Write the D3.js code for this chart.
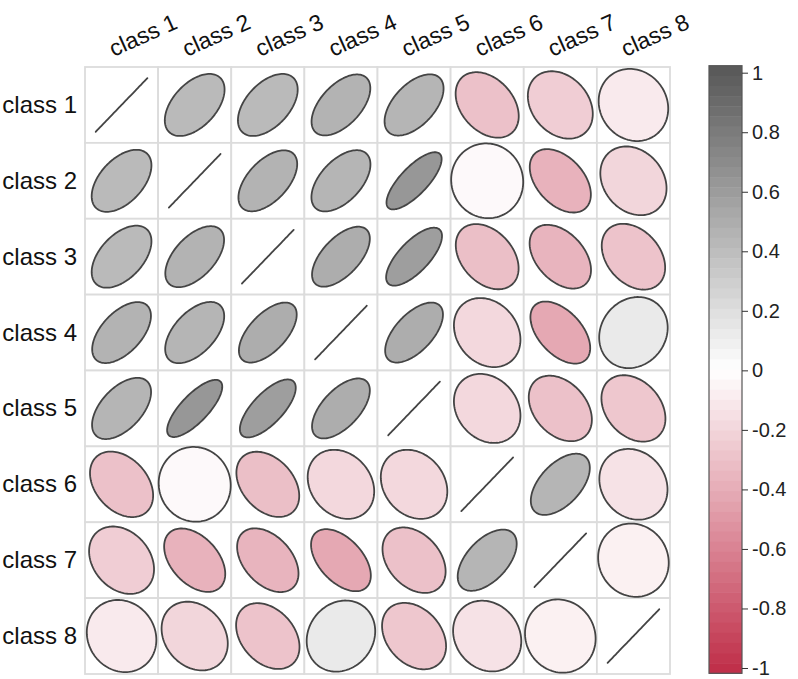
<!DOCTYPE html>
<html><head><meta charset="utf-8">
<script src="https://cdn.jsdelivr.net/npm/d3@7/dist/d3.min.js"></script>
<style>body{margin:0;background:#fff}</style>
</head><body><svg id="chart" width="798" height="679"></svg>
<script>
const classes = ["class 1","class 2","class 3","class 4","class 5","class 6","class 7","class 8"];
const row1 = [1.00, 0.42, 0.42, 0.46, 0.45, -0.30, -0.24, -0.10];
const row2 = [0.42, 1.00, 0.46, 0.45, 0.63, -0.03, -0.37, -0.20];
const row3 = [0.42, 0.46, 1.00, 0.50, 0.59, -0.31, -0.36, -0.29];
const row4 = [0.46, 0.45, 0.50, 1.00, 0.50, -0.19, -0.42, 0.13];
const row5 = [0.45, 0.63, 0.59, 0.50, 1.00, -0.19, -0.30, -0.27];
const row6 = [-0.30, -0.03, -0.31, -0.19, -0.19, 1.00, 0.45, -0.14];
const row7 = [-0.24, -0.37, -0.36, -0.42, -0.30, 0.45, 1.00, -0.07];
const row8 = [-0.10, -0.20, -0.29, 0.13, -0.27, -0.14, -0.07, 1.00];
const corrRows = [row1,row2,row3,row4,row5,row6,row7,row8];
const legendTicks = [1, 0.8, 0.6, 0.4, 0.2, 0, -0.2, -0.4, -0.6, -0.8, -1];

const svg = d3.select("#chart");
const font = "'Liberation Sans', Arial, sans-serif";
const x = d3.scaleBand().domain(classes).range([85, 670]);
const y = d3.scaleBand().domain(classes).range([67, 674]);
const color = d3.scaleLinear().domain([-1, 0, 1]).range(["#c0304a", "#ffffff", "#5a5a5a"]).clamp(true);

// grid
const grid = svg.append("g");
classes.forEach(rc => classes.forEach(cc => {
  grid.append("rect")
    .attr("x", x(cc)).attr("y", y(rc))
    .attr("width", x.bandwidth()).attr("height", y.bandwidth())
    .attr("fill", "#fff").attr("stroke", "#dcdcdc").attr("stroke-width", 1.8);
}));

// ellipses
const line = d3.line().curve(d3.curveLinearClosed);
const cells = svg.append("g");
corrRows.forEach((row, i) => row.forEach((r, j) => {
  const cx = x(classes[j]) + x.bandwidth() / 2;
  const cy = y(classes[i]) + y.bandwidth() / 2;
  const bw = x.bandwidth(), bh = y.bandwidth();
  const theta = r >= 0 ? -Math.PI / 4 : Math.PI / 4;
  const a = 0.5, b = 0.5 * (1 - Math.abs(r));
  const pts = d3.range(0, 120).map(k => {
    const t = k / 120 * 2 * Math.PI;
    const u = a * Math.cos(t), v = b * Math.sin(t);
    const xr = u * Math.cos(theta) - v * Math.sin(theta);
    const yr = u * Math.sin(theta) + v * Math.cos(theta);
    return [cx + xr * bw, cy + yr * bh];
  });
  cells.append("path")
    .attr("d", line(pts))
    .attr("fill", Math.abs(r) >= 0.999 ? "none" : color(r))
    .attr("stroke", "#444").attr("stroke-width", 1.8)
    .attr("stroke-linejoin", "round");
}));

// row labels
svg.append("g").selectAll("text").data(classes).join("text")
  .attr("x", 77).attr("y", d => y(d) + y.bandwidth() / 2 + 8)
  .attr("text-anchor", "end")
  .attr("font-family", font).attr("font-size", 24).attr("fill", "#111")
  .text(d => d);

// column labels
svg.append("g").selectAll("text").data(classes).join("text")
  .attr("transform", d => `translate(${x(d) + x.bandwidth() / 2 - 8},57) rotate(-24)`)
  .attr("text-anchor", "start")
  .attr("font-family", font).attr("font-size", 23).attr("fill", "#111")
  .text(d => d);

// colour legend
const lx = 709, lw = 33, ltop = 65.7, lbot = 673.3;
const ly = d3.scaleLinear().domain([-1, 1]).range([668, 72.7]);
const nb = 60;
const leg = svg.append("g");
d3.range(nb).forEach(k => {
  const y0 = ltop + (lbot - ltop) * k / nb;
  const y1 = ltop + (lbot - ltop) * (k + 1) / nb;
  leg.append("rect")
    .attr("x", lx).attr("y", y0).attr("width", lw).attr("height", y1 - y0 + 0.5)
    .attr("fill", color(ly.invert((y0 + y1) / 2)));
});
leg.append("rect").attr("x", lx).attr("y", ltop).attr("width", lw).attr("height", lbot - ltop)
  .attr("fill", "none").attr("stroke", "#555").attr("stroke-width", 1.2);
const axis = d3.axisRight(ly).tickValues(legendTicks).tickSize(6).tickPadding(4)
  .tickFormat(d => String(+d.toFixed(1)));
const ag = leg.append("g").attr("transform", `translate(${lx + lw},0)`).call(axis);
ag.select(".domain").remove();
ag.selectAll(".tick line").attr("stroke", "#333");
ag.selectAll(".tick text").attr("font-family", font).attr("font-size", 20).attr("fill", "#222");
</script></body></html>
